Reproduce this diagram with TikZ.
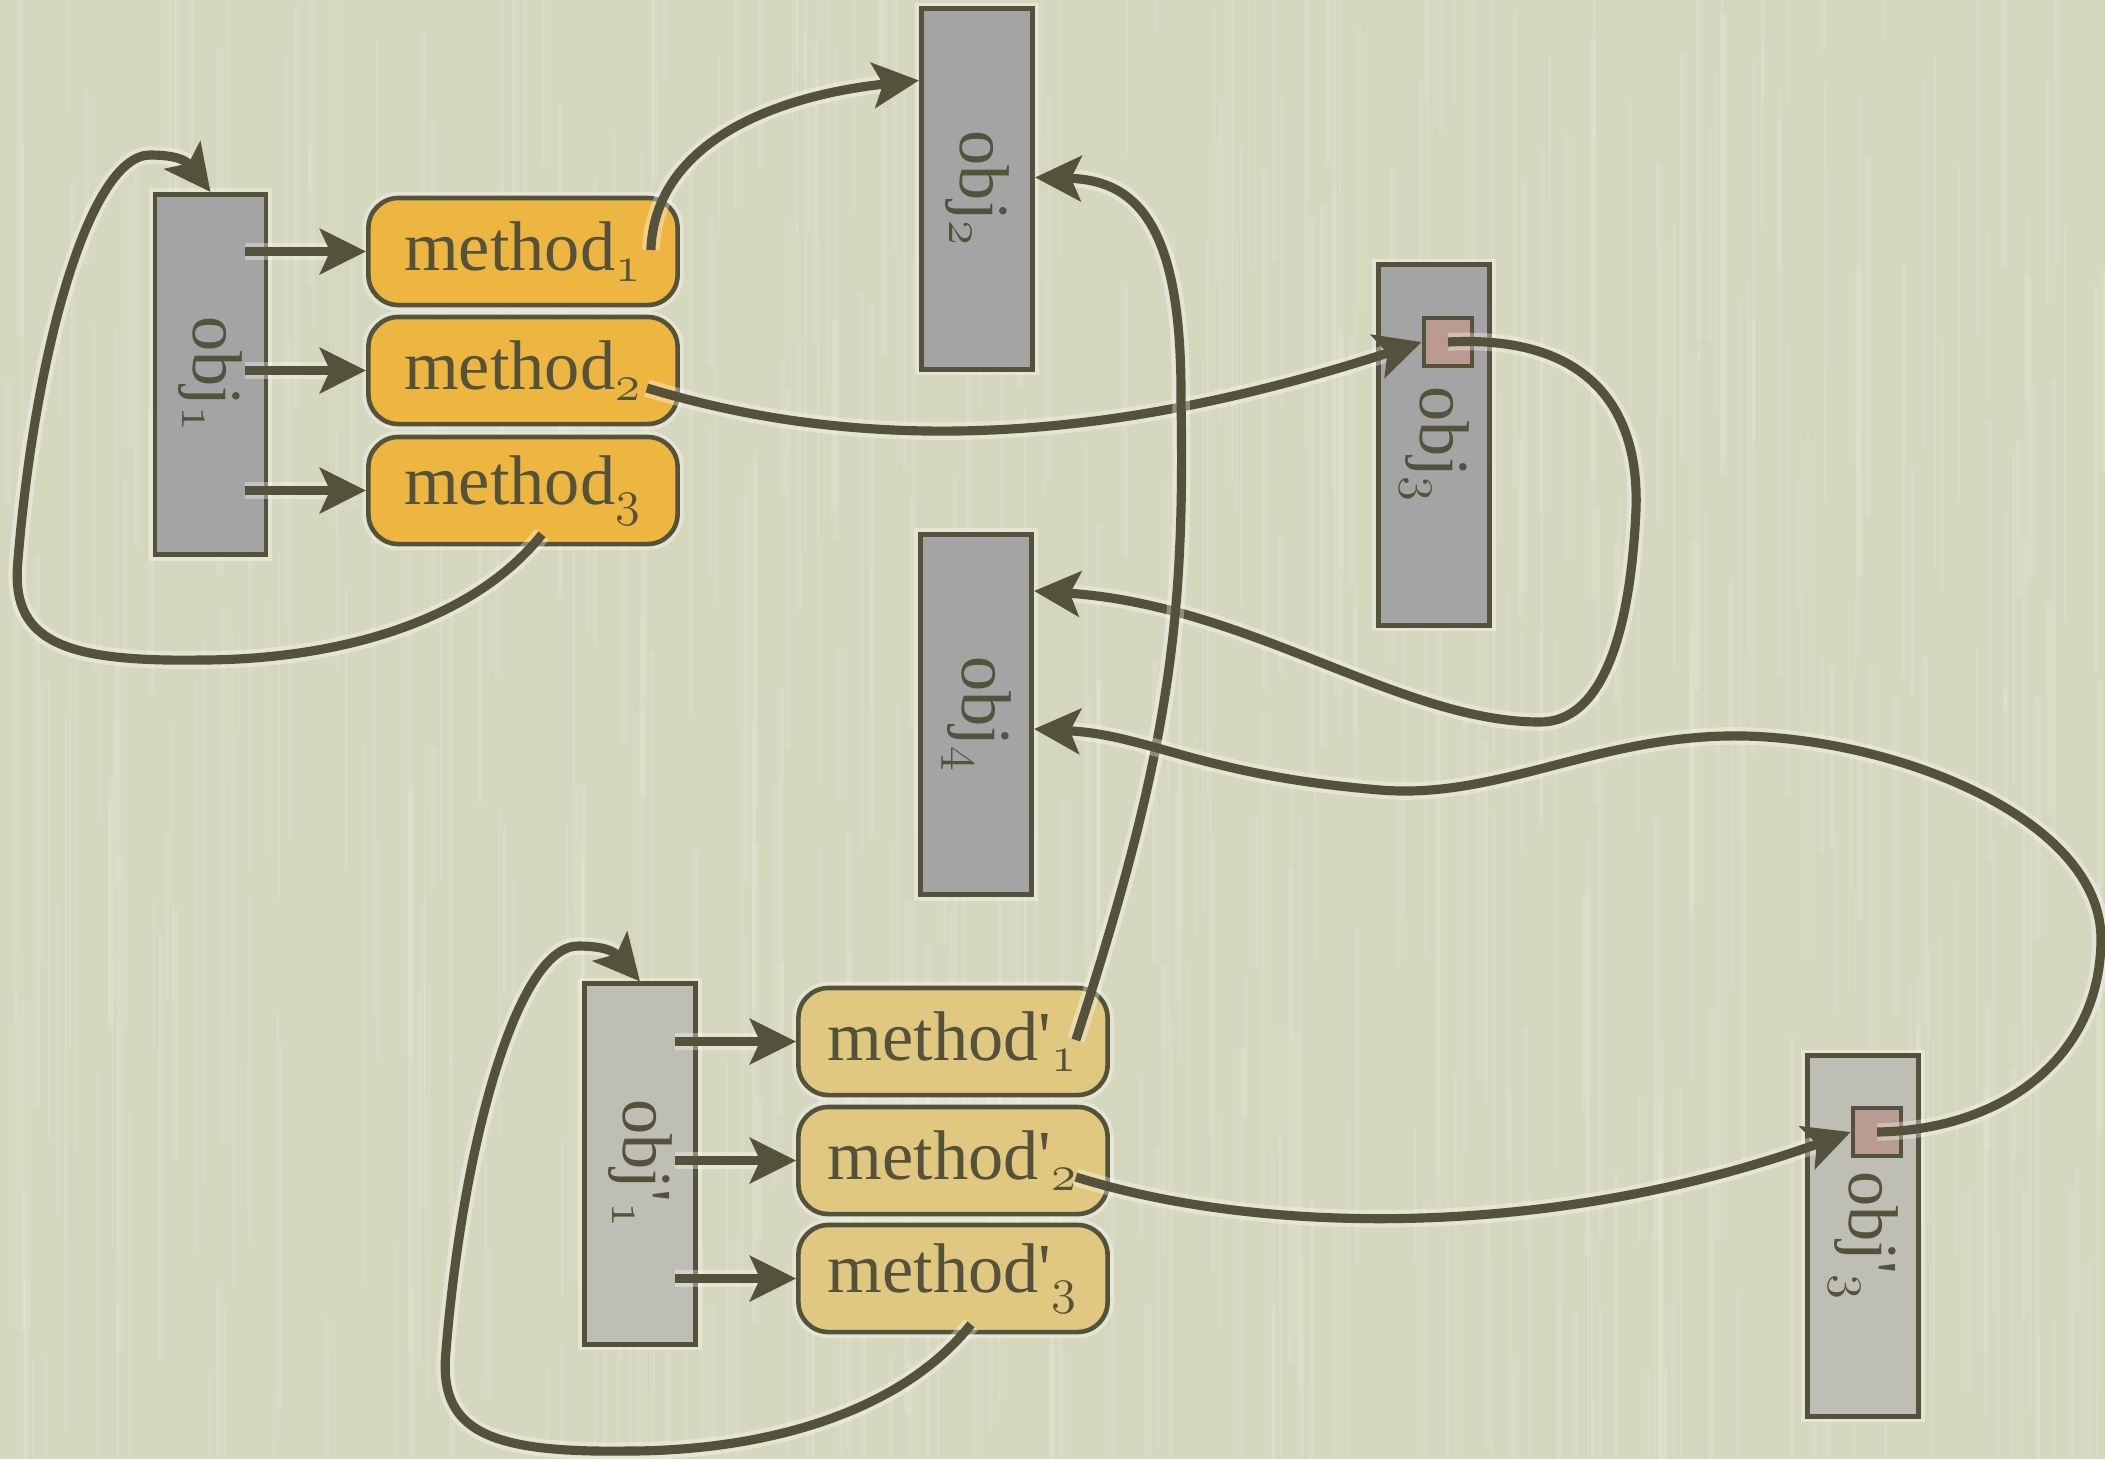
\documentclass[tikz,border=0pt]{standalone}
\usepackage{fontspec}
\setmainfont{Liberation Serif}
\usetikzlibrary{arrows.meta,calc}

\definecolor{paper}{RGB}{213,215,190}
\definecolor{ink}{RGB}{84,82,58}
\definecolor{objgray}{RGB}{164,164,164}
\definecolor{objlight}{RGB}{190,190,180}
\definecolor{methgold}{RGB}{236,182,64}
\definecolor{methlight}{RGB}{224,200,128}
\definecolor{slot}{RGB}{185,155,145}

\tikzset{
  halo/.style={preaction={draw=white,draw opacity=0.35,line width=#1}},
  lbl/.style={font=\fontsize{20}{24}\selectfont,text=ink},
  objbox/.style={lbl,draw=ink,line width=1.4pt,fill=objgray,
    minimum width=1.11cm,minimum height=3.6cm,inner sep=0pt,halo=3.5pt},
  objboxlight/.style={objbox,fill=objlight},
  methbox/.style={lbl,draw=ink,line width=1.3pt,fill=methgold,rounded corners=0.3cm,
    minimum width=3.09cm,minimum height=1.07cm,inner sep=0pt,halo=3.5pt},
  methboxlight/.style={methbox,fill=methlight},
  slotbox/.style={draw=ink,line width=1.3pt,fill=slot,minimum size=0.48cm,inner sep=0pt},
  link/.style={draw=ink,line width=2.6pt,halo=5pt,
    -{Stealth[length=0.46cm,width=0.45cm,inset=0.1cm]}},
  streak/.style={draw=white,draw opacity=0.1},
}
\newcommand{\vlabel}[1]{\rotatebox{-90}{#1}}
\newcommand{\pr}{\textquotesingle}
% old-style figures taken from the math italic font
\newcommand{\ix}[1]{\textsubscript{\usefont{OML}{cmm}{m}{it}#1}}

\begin{document}
\begin{tikzpicture}[x=0.01cm,y=-0.01cm]
  % paper background with fibre streaks
  \fill[paper] (0,0) rectangle (2105,1459);
  \useasboundingbox (0,0) rectangle (2105,1459);
  \begin{scope}
    \clip (0,0) rectangle (2105,1459);
    \pgfmathsetseed{12}
    \foreach \i in {1,...,520}{
      \pgfmathsetmacro{\sx}{rnd*2105}
      \pgfmathsetmacro{\sy}{rnd*1600-200}
      \pgfmathsetmacro{\sl}{120+rnd*450}
      \pgfmathsetmacro{\sw}{0.4+rnd*1.4}
      \draw[streak,line width=\sw pt] (\sx,\sy) -- ++(0,\sl);
    }
  \end{scope}

  % objects
  \node[objbox] (obj1) at (210.5,374.5) {\vlabel{obj\ix{1}}};
  \node[objbox] (obj2) at (977,189) {\vlabel{obj\ix{2}}};
  \node[objbox] (obj3) at (1434,445) {\vlabel{obj\ix{3}}};
  \node[objbox] (obj4) at (976,714.5) {\vlabel{obj\ix{4}}};
  \node[objboxlight] (obj1p) at (640,1164) {\vlabel{obj\pr\ix{1}}};
  \node[objboxlight] (obj3p) at (1863,1236) {\vlabel{obj\pr\ix{3}}};

  % methods
  \node[methbox] (m1) at (523,251.5) {method\ix{1}};
  \node[methbox] (m2) at (523,370.5) {method\ix{2}};
  \node[methbox] (m3) at (523,490.5) {method\ix{3}};
  \node[methboxlight] (m1p) at (953,1041.5) {method\pr\ix{1}};
  \node[methboxlight] (m2p) at (953,1160.5) {method\pr\ix{2}};
  \node[methboxlight] (m3p) at (953,1278.5) {method\pr\ix{3}};

  % slots inside obj3 and obj3'
  \node[slotbox] (sq3) at (1448,342) {};
  \node[slotbox] (sq3p) at (1877,1132) {};

  % connector end points
  \coordinate (m1out) at ($(m1.east)+(-29,-1.5)$);
  \coordinate (m2out) at ($(m2.east)+(-33,17.5)$);
  \coordinate (m3out) at ($(m3.south)+(19,-12)$);
  \coordinate (m1pout) at ($(m1p.east)+(-34,-1.5)$);
  \coordinate (m2pout) at ($(m2p.east)+(-34,16.5)$);
  \coordinate (m3pout) at ($(m3p.south)+(18,-10)$);
  \coordinate (in2a) at ($(obj2.north west)+(0,74)$);
  \coordinate (in2b) at ($(obj2.north east)+(0,171)$);
  \coordinate (in4a) at ($(obj4.north east)+(0,59)$);
  \coordinate (in4b) at ($(obj4.north east)+(0,197)$);

  % object -> method arrows
  \foreach \o/\m in {obj1/m1,obj1/m2,obj1/m3,obj1p/m1p,obj1p/m2p,obj1p/m3p}
    \draw[link] ($(\o.east |- \m.west)+(-23,0)$) -- (\m.west);

  % method_1 -> obj_2
  \draw[link] (m1out) .. controls (655,140) and (780,95) .. (in2a);
  % method_2 -> slot of obj_3
  \draw[link] (m2out) .. controls (900,465) and (1150,430) .. (sq3.west);
  % slot of obj_3 -> obj_4
  \draw[link] (sq3.center) .. controls (1580,335) and (1640,400) .. (1636,510)
    .. controls (1630,640) and (1600,722) .. (1540,722)
    .. controls (1400,722) and (1250,605) .. (in4a);
  % method_3 -> obj_1 (loop back)
  \draw[link] (m3out) .. controls (470,625) and (330,660) .. (200,660)
    .. controls (60,662) and (10,640) .. (18,560)
    .. controls (35,350) and (90,155) .. (150,155)
    .. controls (175,155) and (186,160) .. (obj1.north);

  % method'_1 -> obj_2
  \draw[link] (m1pout) .. controls (1170,750) and (1185,620) .. (1181,400)
    .. controls (1182,230) and (1140,180) .. (in2b);
  % method'_2 -> slot of obj'_3
  \draw[link] (m2pout) .. controls (1260,1235) and (1550,1240) .. (sq3p.west);
  % slot of obj'_3 -> obj_4
  \draw[link] (sq3p.center) .. controls (2000,1130) and (2100,1060) .. (2101,940)
    .. controls (2102,820) and (1900,740) .. (1745,736)
    .. controls (1600,733) and (1500,800) .. (1380,790)
    .. controls (1200,775) and (1150,735) .. (in4b);
  % method'_3 -> obj'_1 (loop back)
  \draw[link] (m3pout) .. controls (898,1416) and (758,1451) .. (628,1451)
    .. controls (488,1453) and (438,1431) .. (446,1351)
    .. controls (463,1141) and (518,946) .. (578,946)
    .. controls (603,946) and (614,951) .. (obj1p.north);
\end{tikzpicture}
\end{document}
